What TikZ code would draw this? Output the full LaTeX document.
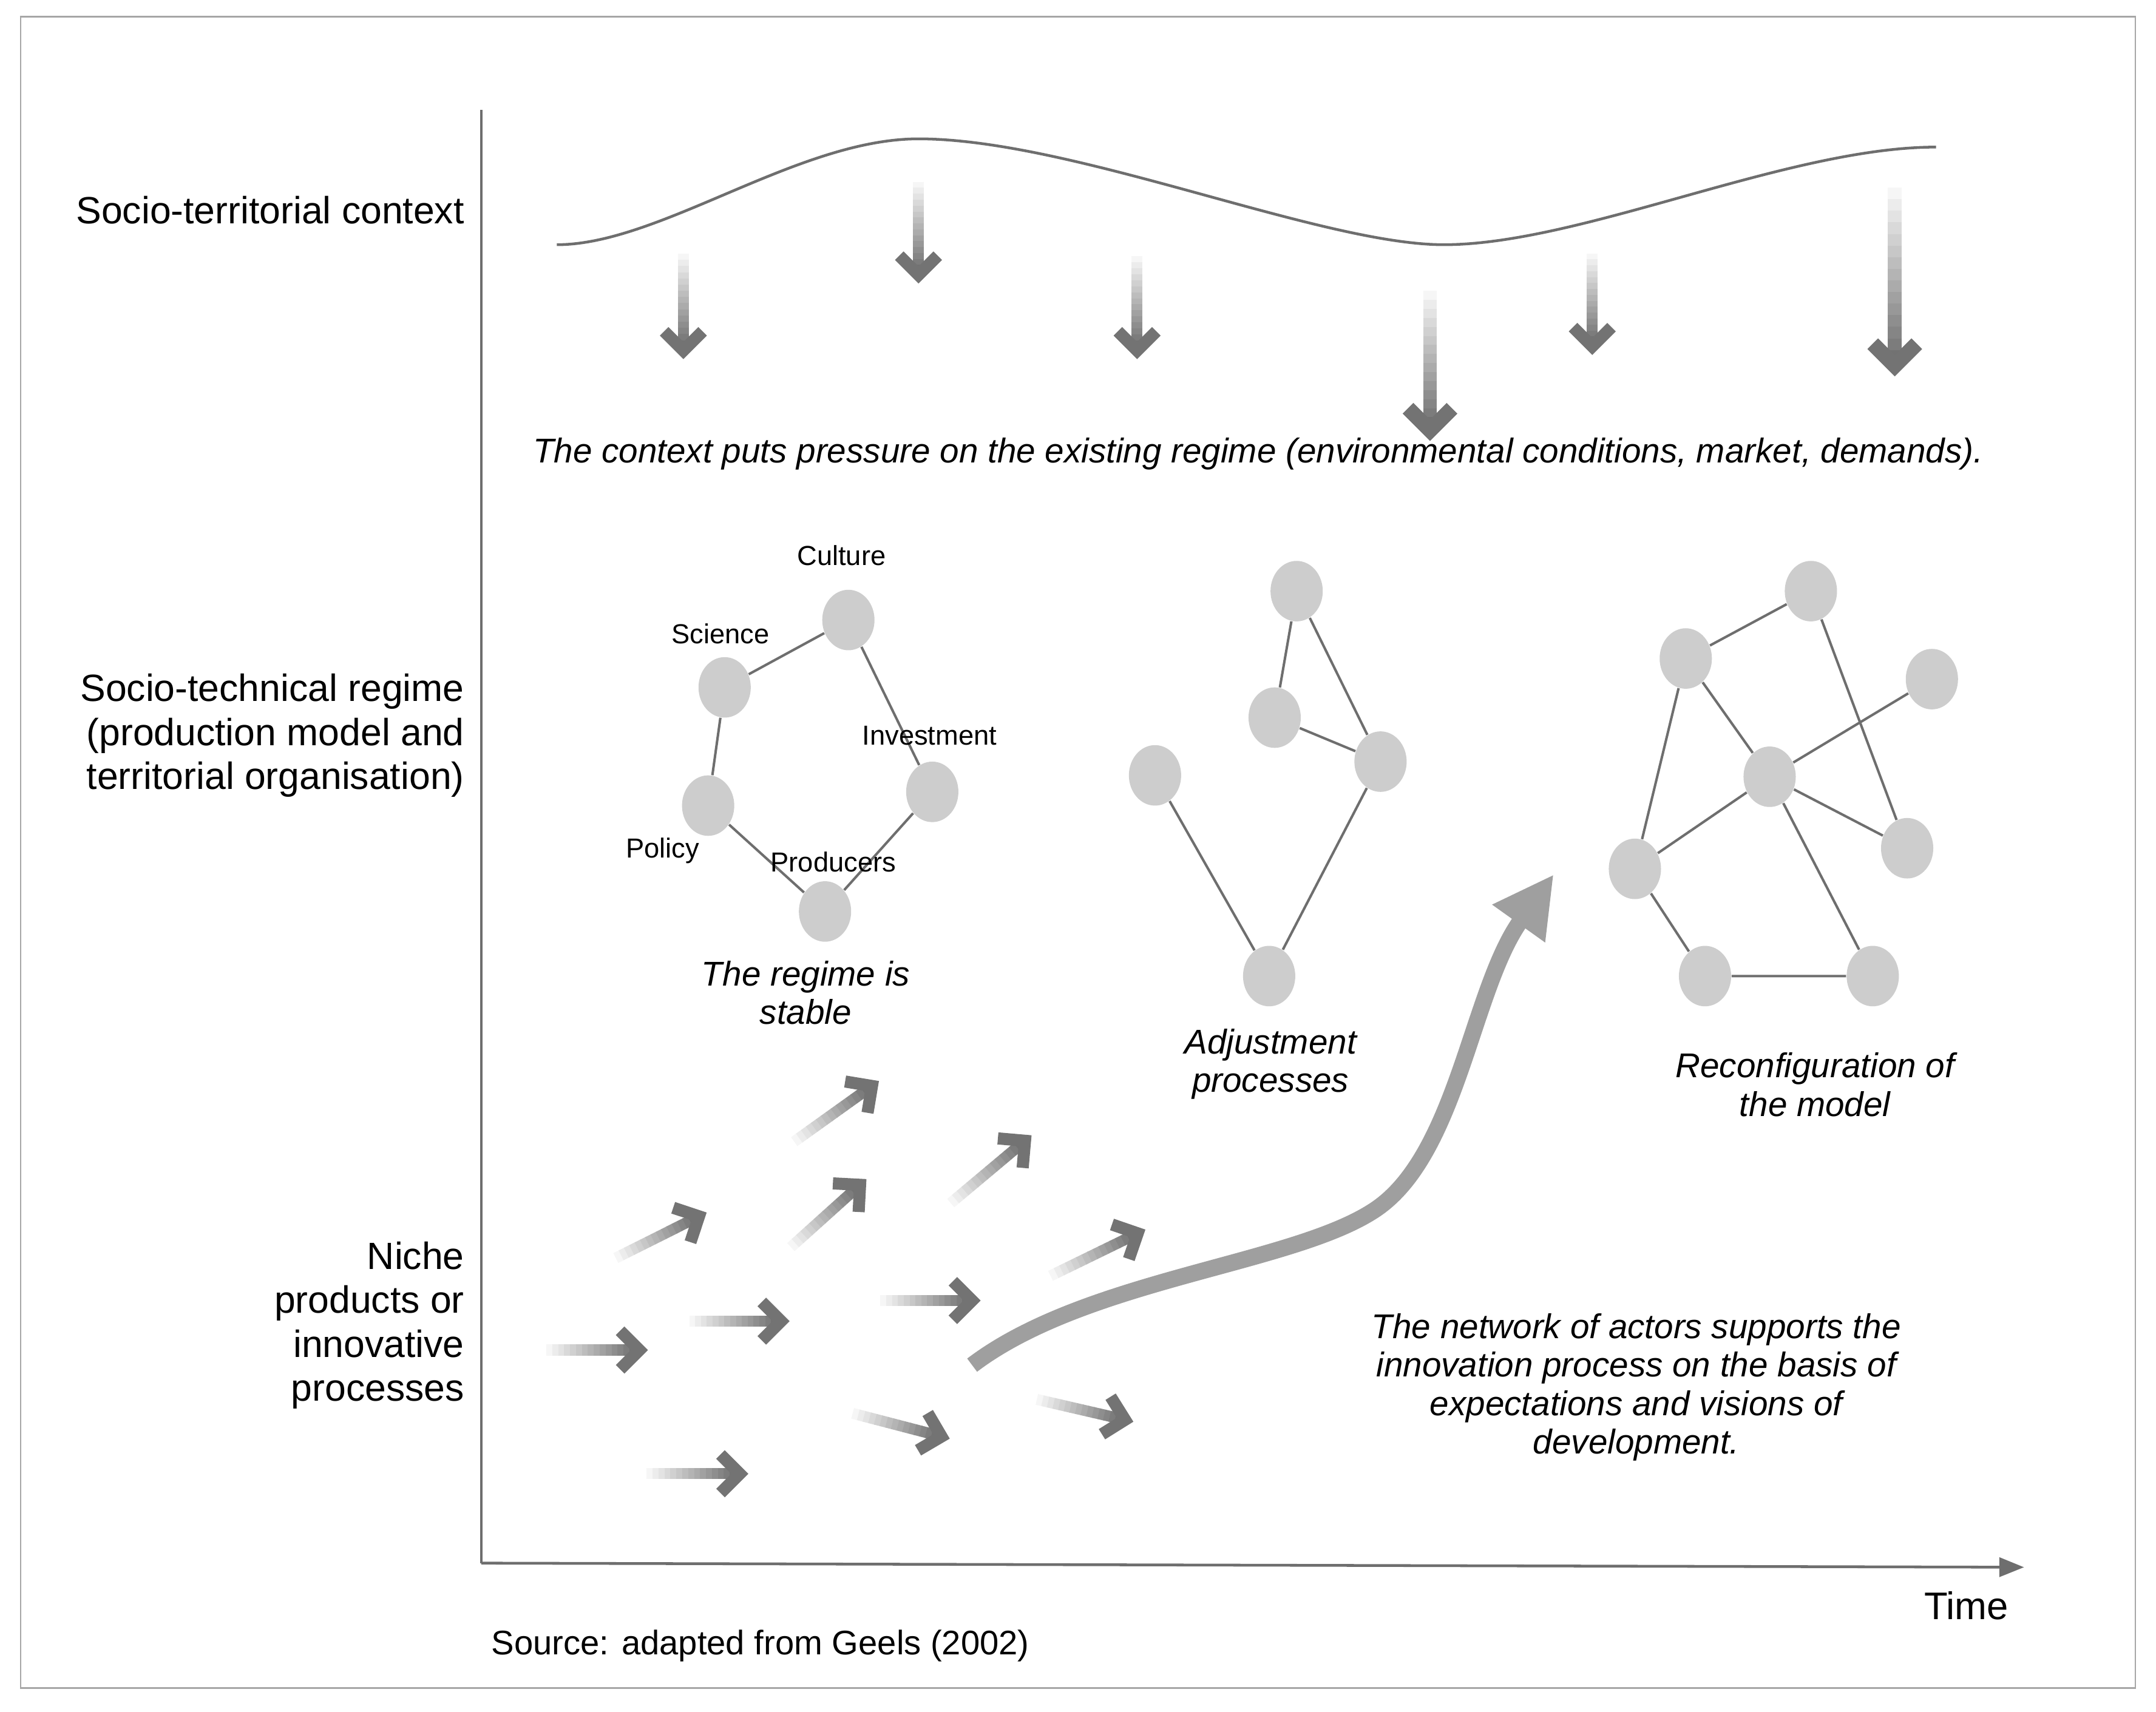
\documentclass[tikz,border=0pt]{standalone}
\usepackage{fontspec}
\setmainfont{Liberation Sans}
\usetikzlibrary{shapes.geometric,arrows.meta}
\definecolor{ag}{RGB}{115,115,115}
\definecolor{nf}{RGB}{205,205,205}
\definecolor{lg}{RGB}{110,110,110}
\newcommand\farrow[6]{% x y angle len halfwidth head
 \begin{scope}[shift={(#1,#2)},rotate=-#3]
 \foreach \i in {0,...,15}{
  \pgfmathsetmacro\pc{\i*6.7}
  \draw[color=ag!\pc!white, line width=#5*1pt, line cap=butt] ({(#4-3)*\i/16},0) -- ({(#4-3)*(\i+1)/16+0.5},0);
 }
 \draw[ag, line width=#5*1.1pt, line cap=butt, line join=miter] (#4-#6,-#6) -- (#4,0) -- (#4-#6,#6);
 \end{scope}}
\tikzset{nd/.style={ellipse, fill=nf, minimum width=19pt, minimum height=22pt, inner sep=0pt},
 ed/.style={lg, line width=0.9pt},
 lab/.style={font=\fontsize{13.8}{16}\selectfont, align=right, anchor=east, inner sep=0pt},
 sm/.style={font=\fontsize{10}{12}\selectfont},
 it/.style={font=\fontsize{12.5}{14}\itshape, align=center}}
\begin{document}
\begin{tikzpicture}[x=0.5pt,y=-0.5pt]
\useasboundingbox (0,0) rectangle (1568,1245);
\draw[gray!70, line width=0.6pt] (15,12) rectangle (1553,1228);
\coordinate (o) at (350,1137);
\coordinate (top) at (350,80);
\coordinate (xe) at (1472,1140);
\draw[lg, line width=1pt] (top) -- (o);
\draw[lg, line width=1pt, -{Triangle[length=9pt,width=7pt]}] (o) -- (xe);
\node[lab] (l1) at (338,153) {Socio-territorial context};
\node[lab] (l2) at (338,535) {Socio-technical regime\\(production model and\\territorial organisation)};
\node[lab] (l3) at (338,964) {Niche\\products or\\innovative\\processes};
\node[font=\fontsize{14}{16}\selectfont] (time) at (1430,1168) {Time};
\node[font=\fontsize{12.4}{14}\selectfont] (src) at (553,1197) {Source: adapted from Geels (2002)};
% wave
\draw[lg, line width=1pt] (405,178) .. controls (480,178) and (580,101) .. (668,101) .. controls (780,101) and (960,178) .. (1050,178) .. controls (1150,178) and (1300,107) .. (1408,107);
% down arrows
\farrow{497}{180}{90}{75}{4}{14}
\farrow{668}{128}{90}{72}{4}{14}
\farrow{827}{182}{90}{73}{4}{14}
\farrow{1040}{205}{90}{108}{5}{16}
\farrow{1158}{180}{90}{72}{4}{14}
\farrow{1378}{128}{90}{138}{5}{16}
\node[it] (ctx) at (915,330) {The context puts pressure on the existing regime (environmental conditions, market, demands).};
% left network
\node[nd] (cu) at (617,451) {};
\node[nd] (sc) at (527,500) {};
\node[nd] (in) at (678,576) {};
\node[nd] (po) at (515,586) {};
\node[nd] (pr) at (600,663) {};
\draw[ed] (sc)--(cu) (cu)--(in) (in)--(pr) (pr)--(po) (po)--(sc);
\node[sm] (tcu) at (612,404) {Culture};
\node[sm] (tsc) at (524,461) {Science};
\node[sm] (tin) at (676,535) {Investment};
\node[sm] (tpo) at (482,619) {Policy};
\node[sm] (tpr) at (606,627) {Producers};
\node[it] (t1) at (586,722) {The regime is\\stable};
% middle network
\node[nd] (a) at (943,430) {};
\node[nd] (b) at (927,522) {};
\node[nd] (c) at (1004,554) {};
\node[nd] (d) at (840,564) {};
\node[nd] (e) at (923,710) {};
\draw[ed] (a)--(b) (a)--(c) (b)--(c) (c)--(e) (d)--(e);
\node[it] (t2) at (924,774) {Adjustment\\processes};
% right network
\node[nd] (p) at (1317,430) {};
\node[nd] (q) at (1226,479) {};
\node[nd] (r) at (1405,494) {};
\node[nd] (s) at (1287,565) {};
\node[nd] (t) at (1189,632) {};
\node[nd] (u) at (1387,617) {};
\node[nd] (v) at (1240,710) {};
\node[nd] (w) at (1362,710) {};
\draw[ed] (q)--(p) (p)--(u) (q)--(t) (q)--(s) (s)--(r) (s)--(t) (s)--(u) (s)--(w) (t)--(v) (v)--(w);
\node[it] (t3) at (1320,789) {Reconfiguration of\\the model};
% niche arrows
\farrow{393}{982}{0}{72}{4}{14}
\farrow{497}{961}{0}{71}{4}{14}
\farrow{466}{1072}{0}{72}{4}{14}
\farrow{636}{946}{0}{71}{4}{14}
\farrow{616}{1027}{14.6}{71}{4}{14}
\farrow{750}{1017}{13}{70}{4}{14}
\farrow{444}{917}{-26.6}{72}{4}{14}
\farrow{574}{833}{-35.6}{74}{4}{14}
\farrow{572}{910}{-42}{72}{4}{14}
\farrow{688}{878}{-40}{75}{4}{14}
\farrow{760}{930}{-26}{75}{4}{14}
% big arrow
\coordinate (bs) at (707,993);
\coordinate (be) at (1130,636);
\draw[color=gray!75, line width=6pt, -{Triangle[length=22pt,width=22pt]}] (bs) .. controls (790,930) and (940,920) .. (1000,880) .. controls (1060,840) and (1070,720) .. (be);
\node[it] (t4) at (1190,1009) {The network of actors supports the\\innovation process on the basis of\\expectations and visions of\\development.};
\end{tikzpicture}
\end{document}
